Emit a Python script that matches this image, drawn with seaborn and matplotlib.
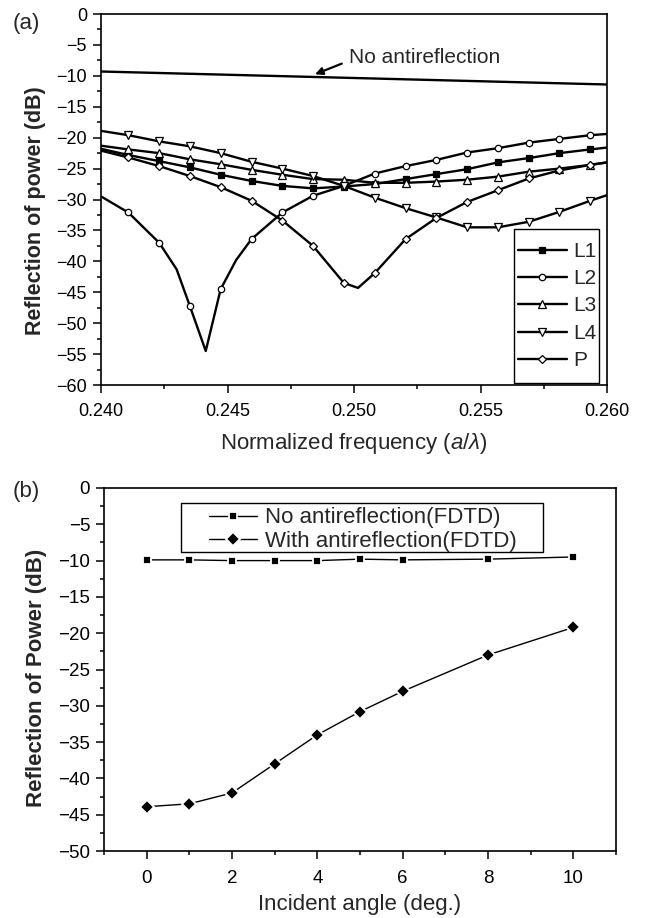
import numpy as np
import pandas as pd
import matplotlib
matplotlib.use("Agg")
import matplotlib.pyplot as plt
import seaborn as sns
from matplotlib.ticker import MultipleLocator
from matplotlib.patches import Rectangle

# ---------------- data: panel (a) ----------------
freq_markers = [0.24108, 0.24230, 0.24351, 0.24473, 0.24595, 0.24717, 0.24838, 0.24960,
                0.25082, 0.25204, 0.25325, 0.25447, 0.25569, 0.25691, 0.25812, 0.25934]
freq_edges = [0.240, 0.260]

L1_markers = [-22.8, -23.8, -24.8, -26.0, -27.0, -27.8, -28.2, -27.9,
              -27.5, -26.7, -25.9, -25.1, -24.0, -23.3, -22.5, -21.9]
L1_edges = [-21.8, -21.6]

L2_markers = [-32.1, -37.0, -47.2, -44.5, -36.4, -32.1, -29.4, -27.8,
              -25.8, -24.6, -23.6, -22.4, -21.7, -20.8, -20.2, -19.6]
L2_edges = [-29.5, -19.4]
L2_extra_freq = [0.24299, 0.24414, 0.24534]
L2_extra = [-41.3, -54.5, -39.8]

L3_markers = [-21.9, -22.5, -23.5, -24.3, -25.2, -26.0, -26.7, -26.8,
              -27.3, -27.3, -27.1, -26.8, -26.3, -25.5, -25.0, -24.4]
L3_edges = [-21.3, -24.0]

L4_markers = [-19.6, -20.6, -21.4, -22.5, -23.9, -25.0, -26.2, -27.8,
              -29.7, -31.4, -32.9, -34.5, -34.5, -33.6, -32.0, -30.2]
L4_edges = [-18.9, -29.3]

P_markers = [-23.2, -24.6, -26.2, -28.0, -30.2, -33.4, -37.5, -43.5,
             -41.9, -36.4, -33.0, -30.4, -28.5, -26.6, -25.3, -24.4]
P_edges = [-22.1, -24.0]
P_extra_freq = [0.25016]
P_extra = [-44.3]

noar_freq = [0.240, 0.250, 0.260]
noar_db = [-9.3, -10.35, -11.4]

series_names = ["L1", "L2", "L3", "L4", "P"]

# ---------------- data: panel (b) ----------------
angles = [0, 1, 2, 3, 4, 5, 6, 8, 10]
no_ar_fdtd = [-9.9, -9.9, -10.0, -10.0, -10.0, -9.8, -9.9, -9.8, -9.5]
with_ar_fdtd = [-43.9, -43.5, -42.0, -38.0, -34.0, -30.8, -28.0, -23.0, -19.2]


def build(markers, edges, extra_f=(), extra_v=()):
    f = list(freq_markers) + list(freq_edges) + list(extra_f)
    v = list(markers) + list(edges) + list(extra_v)
    m = [True] * len(freq_markers) + [False] * (len(freq_edges) + len(extra_f))
    df = pd.DataFrame({"f": f, "db": v, "mk": m}).sort_values("f").reset_index(drop=True)
    return df


sns.set_theme(style="ticks")
plt.rcParams["font.family"] = ["Liberation Sans", "DejaVu Sans"]
plt.rcParams["axes.unicode_minus"] = True
plt.rcParams["mathtext.fontset"] = "custom"
plt.rcParams["mathtext.it"] = "Liberation Sans:italic"
plt.rcParams["mathtext.rm"] = "Liberation Sans"

W, H = 645, 918
fig = plt.figure(figsize=(W / 100, H / 100), dpi=100)


def px_axes(l, t, r, b):
    return fig.add_axes([l / W, 1 - b / H, (r - l) / W, (b - t) / H])


def style_axes(ax, lsize):
    for s in ax.spines.values():
        s.set_color("black")
        s.set_linewidth(1.2)
    ax.tick_params(which="both", direction="out", color="black", width=1.1,
                   top=False, right=False, labelsize=lsize, labelcolor="black")
    ax.tick_params(which="major", length=5.5)
    ax.tick_params(which="minor", length=3)
    ax.grid(False)
    ax.set_facecolor("white")


def frame_patch(ax, l, t, r, b, ax_px):
    al, at, ar, ab = ax_px
    x0, x1 = (l - al) / (ar - al), (r - al) / (ar - al)
    y0, y1 = (ab - b) / (ab - at), (ab - t) / (ab - at)
    ax.add_patch(Rectangle((x0, y0), x1 - x0, y1 - y0, transform=ax.transAxes,
                           facecolor="white", edgecolor="black", lw=1.0, zorder=4))


# ---------------- panel (a) ----------------
A_PX = (101, 14, 607, 385)
axa = px_axes(*A_PX)
style_axes(axa, 13)
axa.tick_params(axis="x", which="major", pad=7.5)
axa.tick_params(axis="y", which="major", pad=4.5)

specs = {
    "L1": dict(marker="s", mfc="black", ms=4.3),
    "L2": dict(marker="o", mfc="white", ms=4.6),
    "L3": dict(marker="^", mfc="white", ms=5.3),
    "L4": dict(marker="v", mfc="white", ms=5.3),
    "P": dict(marker="D", mfc="white", ms=4.2),
}
dfs = {
    "L1": build(L1_markers, L1_edges),
    "L2": build(L2_markers, L2_edges, L2_extra_freq, L2_extra),
    "L3": build(L3_markers, L3_edges),
    "L4": build(L4_markers, L4_edges),
    "P": build(P_markers, P_edges, P_extra_freq, P_extra),
}
for name in series_names:
    df = dfs[name]
    idx = list(np.flatnonzero(df["mk"].values))
    sp = specs[name]
    sns.lineplot(data=df, x="f", y="db", ax=axa, sort=False, estimator=None,
                 color="black", lw=1.7, marker=sp["marker"], markevery=idx,
                 ms=sp["ms"], mfc=sp["mfc"], mec="black", mew=0.9, label=name,
                 legend=False)

sns.lineplot(x=noar_freq, y=noar_db, ax=axa, color="black", lw=1.7, estimator=None,
             legend=False)
axa.annotate("No antireflection", xy=(0.24846, -9.75), xytext=(0.2498, -7.1),
             fontsize=15, ha="left", va="center",
             arrowprops=dict(arrowstyle="-|>", color="black", lw=1.6,
                             mutation_scale=11, shrinkA=3, shrinkB=0,
                             relpos=(0.0, 0.35)))

axa.set_xlim(0.240, 0.260)
axa.set_ylim(-60, 0)
axa.xaxis.set_major_locator(MultipleLocator(0.005))
axa.xaxis.set_minor_locator(MultipleLocator(0.0025))
axa.yaxis.set_major_locator(MultipleLocator(5))
axa.yaxis.set_minor_locator(MultipleLocator(2.5))
axa.xaxis.set_major_formatter(plt.FuncFormatter(lambda v, p: f"{v:.3f}"))
axa.set_xlabel(r"Normalized frequency ($a/\lambda$)", fontsize=16)
axa.set_ylabel("Reflection of power (dB)", fontsize=15.5, fontweight="bold")
axa.xaxis.set_label_coords(0.5, -0.125)
axa.yaxis.set_label_coords(-0.108, 0.47)

frame_patch(axa, 514, 229, 599, 383, A_PX)
handles, labels = axa.get_legend_handles_labels()
leg = axa.legend(handles, labels, loc="center left",
                 bbox_to_anchor=((518 - 101) / 506, (385 - 306) / 371),
                 borderaxespad=0, frameon=False, fontsize=15,
                 handlelength=2.35, handletextpad=0.3, labelspacing=0.4,
                 borderpad=0.0)
leg.set_zorder(5)

fig.text(13 / W, 1 - 23 / H, "(a)", fontsize=16, ha="left", va="center")

# ---------------- panel (b) ----------------
B_PX = (104, 488, 616, 851)
axb = px_axes(*B_PX)
style_axes(axb, 13.5)
axb.tick_params(axis="x", which="major", pad=8)
axb.tick_params(axis="y", which="major", pad=4.5)
sns.lineplot(x=angles, y=no_ar_fdtd, ax=axb, color="black", lw=1.0, estimator=None,
             marker="s", ms=6, mfc="black", mec="white", mew=1.3,
             label="No antireflection(FDTD)", legend=False)
sns.lineplot(x=angles, y=with_ar_fdtd, ax=axb, color="black", lw=1.0, estimator=None,
             marker="D", ms=7, mfc="black", mec="white", mew=1.4,
             label="With antireflection(FDTD)", legend=False)
axb.set_xlim(-1, 11)
axb.set_ylim(-50, 0)
axb.xaxis.set_major_locator(MultipleLocator(2))
axb.xaxis.set_minor_locator(MultipleLocator(1))
axb.yaxis.set_major_locator(MultipleLocator(5))
axb.yaxis.set_minor_locator(MultipleLocator(2.5))
axb.set_xlabel("Incident angle (deg.)", fontsize=16)
axb.set_ylabel("Reflection of Power (dB)", fontsize=16, fontweight="bold")
axb.xaxis.set_label_coords(0.5, -0.118)
axb.yaxis.set_label_coords(-0.111, 0.477)

frame_patch(axb, 181, 503, 543, 552, B_PX)
hb, lb = axb.get_legend_handles_labels()
legb = axb.legend(hb, lb, loc="center left",
                  bbox_to_anchor=((209 - 104) / 512, (851 - 529.5) / 363),
                  borderaxespad=0, frameon=False, fontsize=16,
                  handlelength=2.15, handletextpad=0.35, labelspacing=0.1,
                  borderpad=0.0)
legb.set_zorder(5)

fig.text(13 / W, 1 - 492 / H, "(b)", fontsize=16, ha="left", va="center")

fig.savefig("out.png", dpi=100, facecolor="white")
